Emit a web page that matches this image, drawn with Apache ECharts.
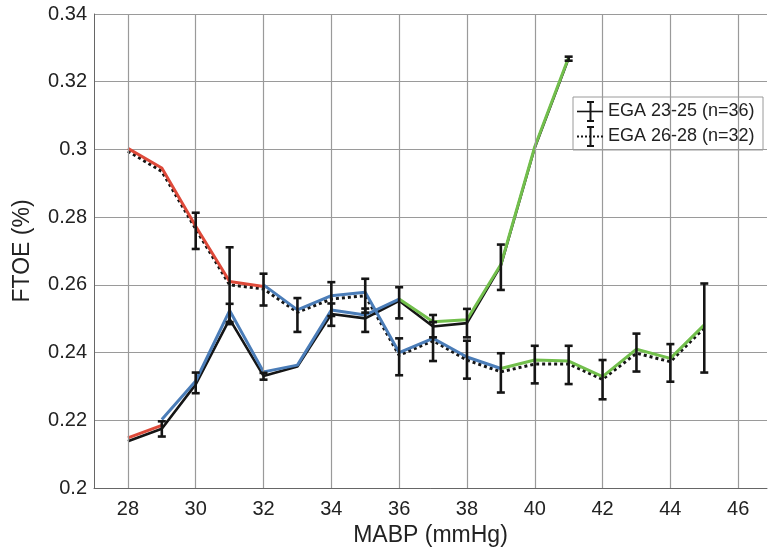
<!DOCTYPE html>
<html>
<head>
<meta charset="utf-8">
<script src="https://cdn.jsdelivr.net/npm/echarts@6/dist/echarts.min.js"></script>
<style>
  html, body { margin: 0; padding: 0; background: #fff; }
  #chart { width: 770px; height: 555px; }
</style>
</head>
<body>
<div id="chart"></div>
<script>
// 数据
const xGrid = [28, 30, 32, 34, 36, 38, 40, 42, 44, 46];
const yTicks = [0.2, 0.22, 0.24, 0.26, 0.28, 0.3, 0.32, 0.34];

// EGA 23-25 (n=36), solid, x = 28..41
const mabpA = [28, 29, 30, 31, 32, 33, 34, 35, 36, 37, 38, 39, 40, 41];
const ftoeA = [0.2138, 0.2175, 0.2306, 0.2499, 0.2331, 0.2359, 0.2514, 0.2501, 0.2553, 0.2477, 0.2487, 0.2657, 0.3005, 0.3269];
const loA = [null, 0.2152, 0.2280, 0.2484, 0.2320, null, 0.2479, 0.2461, 0.2501, 0.2445, 0.2445, 0.2585, null, 0.3262];
const hiA = [null, 0.2197, 0.2341, 0.2544, 0.2340, null, 0.2545, 0.2530, 0.2593, 0.2511, 0.2529, 0.2719, null, 0.3274];

// EGA 26-28 (n=32), dotted, x = 28..45
const mabpB = [28, 29, 30, 31, 32, 33, 34, 35, 36, 37, 38, 39, 40, 41, 42, 43, 44, 45];
const ftoeB = [0.2995, 0.2935, 0.2765, 0.2600, 0.2588, 0.2519, 0.2558, 0.2568, 0.2392, 0.2435, 0.2378, 0.2343, 0.2366, 0.2366, 0.2321, 0.2398, 0.2373, 0.2473];
const loB = [null, null, 0.2706, 0.2490, 0.2539, 0.2461, 0.2508, 0.2518, 0.2333, 0.2375, 0.2323, 0.2282, 0.2309, 0.2307, 0.2262, 0.2344, 0.2314, 0.2341];
const hiB = [null, null, 0.2813, 0.2711, 0.2633, 0.2561, 0.2608, 0.2618, 0.2442, 0.2490, 0.2435, 0.2398, 0.2420, 0.2420, 0.2378, 0.2456, 0.2425, 0.2604];

// 彩色分段
const redA = [[28, 0.2148], [29, 0.2185]];
const blueA = [[29, 0.2202], [30, 0.2316], [31, 0.2524], [32, 0.2343], [33, 0.2363], [34, 0.2526], [35, 0.2511], [36, 0.2558]];
const greenA = [[36, 0.2558], [37, 0.2491], [38, 0.2497], [39, 0.2660], [40, 0.3008], [41, 0.3272]];
const redB = [[28, 0.3003], [29, 0.2945], [30, 0.2773], [31, 0.2610], [32, 0.2595]];
const blueB = [[32, 0.2600], [33, 0.2526], [34, 0.2568], [35, 0.2578], [36, 0.2400], [37, 0.2442], [38, 0.2387], [39, 0.2353]];
const greenB = [[39, 0.2353], [40, 0.2378], [41, 0.2375], [42, 0.2329], [43, 0.2410], [44, 0.2383], [45, 0.2482]];

const legendNames = ['EGA 23-25 (n=36)', 'EGA 26-28 (n=32)'];

const RED = '#de4a3a', BLUE = '#4b7db8', GREEN = '#72bf4c';
const FONT = 'Liberation Sans';

function pairs(xs, ys) {
  return xs.map((x, i) => [x, ys[i]]);
}
function bars(xs, lo, hi) {
  const out = [];
  xs.forEach((x, i) => { if (lo[i] != null) out.push([x, lo[i], hi[i]]); });
  return out;
}
function errRender(params, api) {
  const x = api.value(0);
  const p1 = api.coord([x, api.value(1)]);
  const p2 = api.coord([x, api.value(2)]);
  const w = 4;
  const st = { stroke: '#151515', lineWidth: 2.6 };
  return {
    type: 'group',
    children: [
      { type: 'line', shape: { x1: p1[0], y1: p1[1], x2: p2[0], y2: p2[1] }, style: st },
      { type: 'line', shape: { x1: p1[0] - w, y1: p1[1], x2: p1[0] + w, y2: p1[1] }, style: st },
      { type: 'line', shape: { x1: p2[0] - w, y1: p2[1], x2: p2[0] + w, y2: p2[1] }, style: st }
    ]
  };
}
function colorLine(data, color) {
  return {
    type: 'line', data: data, symbol: 'none', silent: true, z: 4,
    lineStyle: { color: color, width: 3 }
  };
}

let myChart = echarts.init(document.getElementById('chart'));

const legendItems = [];
legendNames.forEach((name, i) => {
  const cy = 111.5 + i * 25;
  legendItems.push(
    { type: 'line', shape: { x1: 577, y1: cy, x2: 603, y2: cy },
      style: { stroke: '#151515', lineWidth: i === 0 ? 1.6 : 2, lineDash: i === 0 ? null : [2, 2] } },
    { type: 'line', shape: { x1: 590.5, y1: cy - 9.5, x2: 590.5, y2: cy + 9.5 }, style: { stroke: '#151515', lineWidth: 2 } },
    { type: 'line', shape: { x1: 587, y1: cy - 9.5, x2: 594, y2: cy - 9.5 }, style: { stroke: '#151515', lineWidth: 2 } },
    { type: 'line', shape: { x1: 587, y1: cy + 9.5, x2: 594, y2: cy + 9.5 }, style: { stroke: '#151515', lineWidth: 2 } },
    { type: 'text', x: 608, y: cy, style: { text: name, font: '18px "' + FONT + '"', fill: '#222', verticalAlign: 'middle' } }
  );
});

myChart.setOption({
  backgroundColor: '#fff',
  animation: false,
  grid: { left: 94, top: 14, right: 0, bottom: 67 },
  xAxis: {
    type: 'value', min: 27, max: 46.85, interval: 1,
    name: 'MABP (mmHg)', nameLocation: 'middle', nameGap: 31,
    nameTextStyle: { fontFamily: FONT, fontSize: 23, color: '#222' },
    axisLine: { lineStyle: { color: '#666', width: 1 } },
    axisTick: { show: false },
    splitLine: { show: false },
    axisLabel: {
      fontFamily: FONT, fontSize: 20, color: '#222', margin: 11,
      showMinLabel: true, showMaxLabel: true,
      formatter: v => (Math.abs(v % 2) < 1e-9 ? String(v) : '')
    }
  },
  yAxis: {
    type: 'value', min: yTicks[0], max: yTicks[yTicks.length - 1], interval: 0.02,
    name: 'FTOE (%)', nameLocation: 'middle', nameGap: 60, nameRotate: 90,
    nameTextStyle: { fontFamily: FONT, fontSize: 23, color: '#222' },
    axisLine: { show: true, lineStyle: { color: '#666', width: 1 } },
    axisTick: { show: false },
    splitLine: { show: true, lineStyle: { color: '#9a9a9a', width: 1.2 } },
    axisLabel: {
      fontFamily: FONT, fontSize: 20, color: '#222', margin: 7,
      formatter: v => String(+v.toFixed(2))
    }
  },
  graphic: [{ type: 'rect', shape: { x: 573, y: 97, width: 190, height: 53 },
    style: { fill: 'none', stroke: '#9a9a9a', lineWidth: 1 }, z: 100 }]
    .concat(legendItems.map(g => Object.assign(g, { z: 100 }))),
  series: [
    {
      type: 'line', data: [], silent: true, z: 1,
      markLine: {
        silent: true, symbol: ['none', 'none'], animation: false,
        label: { show: false },
        lineStyle: { color: '#9a9a9a', width: 1.2, type: 'solid' },
        emphasis: { disabled: true },
        data: xGrid.map(v => ({ xAxis: v }))
      }
    },
    {
      name: legendNames[0], type: 'line', data: pairs(mabpA, ftoeA), symbol: 'none', z: 3,
      lineStyle: { color: '#151515', width: 2.6 }
    },
    {
      name: legendNames[1], type: 'line', data: pairs(mabpB, ftoeB), symbol: 'none', z: 3,
      lineStyle: { color: '#151515', width: 3, type: 'dotted' }
    },
    colorLine(redA, RED), colorLine(blueA, BLUE), colorLine(greenA, GREEN),
    colorLine(redB, RED), colorLine(blueB, BLUE), colorLine(greenB, GREEN),
    { type: 'custom', data: bars(mabpA, loA, hiA), renderItem: errRender, z: 6, encode: { x: 0, y: [1, 2] } },
    { type: 'custom', data: bars(mabpB, loB, hiB), renderItem: errRender, z: 6, encode: { x: 0, y: [1, 2] } }
  ]
});
</script>
</body>
</html>
